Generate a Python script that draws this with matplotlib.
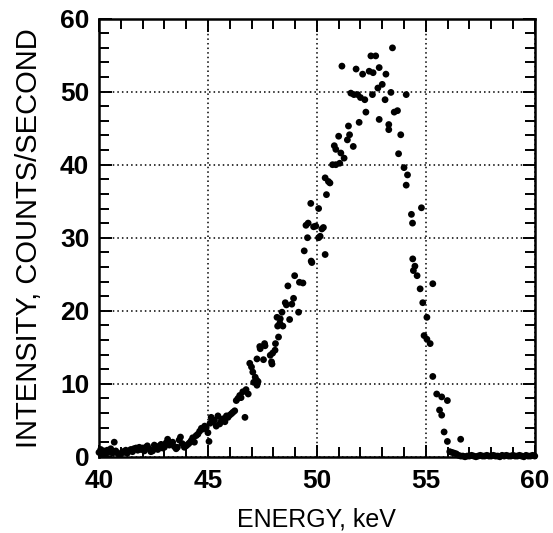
import matplotlib
matplotlib.use("Agg")
import matplotlib.pyplot as plt
from matplotlib.ticker import MultipleLocator

plt.rcParams["font.family"] = ["Liberation Sans", "DejaVu Sans"]

# energy (keV) and intensity (counts/s)
energy_low = [40.0, 40.08, 40.15, 40.22, 40.3, 40.38, 40.46, 40.54, 40.62, 40.7,
              40.77, 40.85, 40.92, 41.0, 41.08, 41.15, 41.23, 41.3, 41.38, 41.46,
              41.54, 41.6, 41.7, 41.78, 41.85, 41.92, 42.0, 42.08, 42.15, 42.22,
              42.3, 42.38, 42.46, 42.54, 42.6, 42.7, 42.78, 42.85, 42.92, 43.0,
              43.08, 43.15, 43.23, 43.3, 43.38, 43.46, 43.54, 43.6, 43.68, 43.74,
              43.82, 43.92, 44.0, 44.08, 44.15, 44.23, 44.3, 44.38, 44.46, 44.54,
              44.62, 44.7, 44.77, 44.85, 44.92, 45.0, 45.05, 45.1, 45.15, 45.22,
              45.3, 45.38, 45.46, 45.54, 45.62, 45.7, 45.78, 45.85, 45.92, 46.0,
              46.08, 46.15, 46.23, 46.3, 46.38, 46.46, 46.52, 46.6, 46.7, 46.75,
              46.85, 46.92]
counts_low = [0.6, 1.0, 0.4, 0.8, 0.3, 0.9, 0.6, 1.1, 0.5, 2.0,
              0.8, 0.5, 0.3, 0.4, 0.7, 0.6, 0.9, 0.5, 0.8, 1.0,
              0.7, 1.1, 1.2, 0.9, 1.3, 1.0, 1.2, 0.8, 1.3, 1.5,
              1.1, 0.7, 0.8, 1.6, 1.3, 1.0, 1.5, 1.7, 1.2, 1.3,
              1.9, 2.4, 1.6, 1.8, 2.0, 1.4, 1.1, 1.3, 2.3, 2.7,
              1.8, 1.3, 1.5, 1.7, 1.9, 2.2, 2.6, 2.0, 2.9, 3.1,
              3.5, 3.9, 3.8, 4.2, 4.0, 3.3, 2.1, 4.6, 5.4, 4.8,
              5.0, 4.2, 5.6, 4.5, 5.0, 5.2, 4.8, 5.6, 5.4, 5.7,
              5.9, 6.1, 6.3, 7.7, 8.0, 8.4, 8.1, 8.9, 5.4, 9.2,
              8.6, 12.8]

energy_peak = [47.0, 47.06, 47.1, 47.17, 47.23, 47.25, 47.3, 47.25, 47.4, 47.38,
               47.55, 47.6, 47.62, 47.86, 47.92, 47.94, 47.97, 48.1, 48.08, 48.17,
               48.2, 48.24, 48.3, 48.32, 48.4, 48.44, 48.55, 48.6, 48.67, 48.75,
               48.85, 48.93, 48.98, 49.16, 49.2, 49.36, 49.42, 49.5, 49.57, 49.6,
               49.72, 49.74, 49.77, 49.85, 49.95, 50.08, 50.08, 50.15, 50.23, 50.3,
               50.38, 50.38, 50.44, 50.53, 50.6, 50.72, 50.8, 50.87, 50.87, 51.0,
               51.05, 51.1, 51.15, 51.25, 51.4, 51.45, 51.5, 51.56, 51.67, 51.7,
               51.8, 51.87, 51.94, 52.0, 52.1, 52.2, 52.25, 52.4, 52.48, 52.55,
               52.58, 52.7, 52.8, 52.86, 52.86, 53.0, 53.13, 53.17, 53.3, 53.3,
               53.4, 53.47, 53.55, 53.7, 53.75, 53.85, 54.0, 54.1, 54.1, 54.16,
               54.34, 54.39, 54.8, 54.4, 54.5, 54.43, 54.6, 55.32, 54.74, 54.86,
               55.05, 54.92, 55.05, 55.2, 55.32, 55.5, 55.73, 55.99, 55.63, 55.73,
               55.84, 55.99, 56.6]
counts_peak = [12.3, 11.6, 10.2, 10.9, 10.5, 9.8, 10.3, 13.4, 14.8, 15.1,
               13.3, 15.5, 15.2, 13.9, 13.0, 12.7, 14.2, 15.5, 14.6, 19.1,
               17.9, 16.4, 18.3, 18.9, 19.8, 17.9, 21.1, 20.8, 23.4, 18.8,
               20.9, 21.7, 24.8, 19.8, 23.9, 23.8, 28.2, 31.7, 30.0, 32.0,
               34.7, 26.8, 26.6, 31.5, 31.6, 30.0, 34.0, 30.2, 31.2, 31.4,
               27.7, 38.2, 35.9, 37.7, 37.5, 40.0, 42.6, 42.1, 40.0, 43.9,
               40.2, 41.6, 53.5, 40.9, 43.4, 45.3, 44.1, 49.8, 42.5, 49.6,
               53.1, 49.6, 45.8, 49.2, 52.4, 48.9, 47.2, 52.8, 54.9, 49.6,
               52.6, 54.9, 50.5, 53.3, 46.2, 51.0, 48.9, 52.4, 45.5, 44.8,
               49.9, 56.0, 47.2, 47.4, 41.5, 44.1, 39.6, 49.6, 37.2, 38.6,
               33.2, 32.0, 34.1, 27.1, 26.1, 25.5, 24.8, 23.7, 23.0, 21.1,
               19.1, 16.6, 16.1, 15.5, 11.0, 8.6, 8.2, 7.7, 6.4, 5.7,
               3.4, 2.1, 2.4]

energy_tail = [56.1, 56.2, 56.3, 56.4, 56.5, 56.6, 56.7, 56.8, 56.9, 57.0,
               57.1, 57.2, 57.3, 57.4, 57.5, 57.6, 57.7, 57.8, 57.9, 58.0,
               58.1, 58.2, 58.3, 58.4, 58.5, 58.6, 58.7, 58.8, 58.9, 59.0,
               59.1, 59.2, 59.3, 59.4, 59.5, 59.6, 59.7, 59.8, 59.9, 60.0]
counts_tail = [0.7, 0.6, 0.5, 0.4, 0.2, 0.1, 0.1, 0.0, 0.1, 0.1,
               0.2, 0.1, 0.0, 0.1, 0.2, 0.1, 0.1, 0.2, 0.1, 0.1,
               0.2, 0.1, 0.1, 0.0, 0.2, 0.1, 0.2, 0.1, 0.1, 0.2,
               0.1, 0.1, 0.2, 0.1, 0.0, 0.2, 0.1, 0.1, 0.2, 0.1]

energy = energy_low + energy_peak + energy_tail
counts = counts_low + counts_peak + counts_tail

fig = plt.figure(figsize=(5.53, 5.33), dpi=100)
ax = fig.add_axes([0.179, 0.143, 0.788, 0.822])

ax.scatter(energy, counts, s=24, color="black", edgecolors="none", zorder=3, clip_on=False)

ax.set_xlim(40, 60)
ax.set_ylim(0, 60)
ax.xaxis.set_major_locator(MultipleLocator(5))
ax.xaxis.set_minor_locator(MultipleLocator(1))
ax.yaxis.set_major_locator(MultipleLocator(10))
ax.yaxis.set_minor_locator(MultipleLocator(2))

ax.grid(True, which="major", linestyle=(0, (1, 2)), color="black", linewidth=1.1)
ax.tick_params(which="both", direction="in", top=True, right=True, width=1.4, color="black")
ax.tick_params(which="major", length=9, labelsize=19)
ax.tick_params(axis="y", which="major", pad=7)
ax.tick_params(axis="x", which="major", pad=9)
ax.tick_params(which="minor", length=7)
for lab in ax.get_xticklabels() + ax.get_yticklabels():
    lab.set_fontweight("bold")

for sp in ax.spines.values():
    sp.set_linewidth(1.8)

ax.set_xlabel("ENERGY, keV", fontsize=18, labelpad=10)
ax.set_ylabel("INTENSITY, COUNTS/SECOND", fontsize=21, labelpad=12)

fig.savefig("out.png", dpi=100)
